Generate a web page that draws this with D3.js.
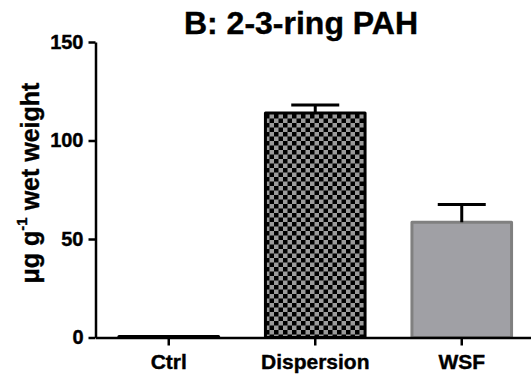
<!DOCTYPE html>
<html>
  <meta charset="utf-8">
  <style>
    body { margin: 0; background: #fff; }
    text { font-family: "Liberation Sans", Arial, sans-serif; font-weight: bold; stroke: #000; stroke-width: 0.4px; }
  </style>
  <body>
    <svg width="531" height="376"></svg>

    <script src="https://d3js.org/d3.v7.min.js"></script>
    <script>
    // data
    let groups = ['Ctrl', 'Dispersion', 'WSF']
    let means = [0.5, 114, 58.5]
    let errors = [0, 4, 9]
    let yTicks = [0, 50, 100, 150]

    let svg = d3.select('svg')

    // checker fill for Dispersion
    let defs = svg.append('defs')
    let pat = defs.append('pattern')
      .attr('id', 'checker')
      .attr('patternUnits', 'userSpaceOnUse')
      .attr('width', 9).attr('height', 9)
      .attr('x', 265).attr('y', 114)
    pat.append('rect').attr('width', 9).attr('height', 9).attr('fill', '#9a9a9a')
    pat.append('rect').attr('width', 4.5).attr('height', 4.5).attr('fill', '#000')
    pat.append('rect').attr('x', 4.5).attr('y', 4.5).attr('width', 4.5).attr('height', 4.5).attr('fill', '#000')

    let x = d3.scaleBand()
              .domain(groups)
              .range([95.5, 535])
              .paddingInner(0.32)
              .paddingOuter(0.16)

    let y = d3.scaleLinear()
              .domain([0, 150])
              .range([337.5, 42])

    let fills = ['#000', 'url(#checker)', '#a0a0a5']
    let strokes = ['#000', '#000', '#808080']

    // bars
    svg.append('g').selectAll('rect')
      .data(means).enter()
      .append('rect')
      .attr('x', (d, i) => x(groups[i]))
      .attr('y', d => y(d))
      .attr('width', x.bandwidth())
      .attr('height', d => y(0) - y(d))
      .attr('fill', (d, i) => fills[i])
      .attr('stroke', (d, i) => strokes[i])
      .attr('stroke-width', 3)
      .attr('stroke-linejoin', 'round')

    // error bars (upper only)
    let eb = svg.append('g').attr('stroke', '#000').attr('stroke-width', 3)
    means.forEach((m, i) => {
      if (!errors[i]) return
      let cx = x(groups[i]) + x.bandwidth() / 2
      eb.append('line')
        .attr('x1', cx).attr('x2', cx)
        .attr('y1', y(m)).attr('y2', y(m + errors[i]))
      eb.append('line')
        .attr('x1', cx - 24).attr('x2', cx + 24)
        .attr('y1', y(m + errors[i])).attr('y2', y(m + errors[i]))
    })

    // y axis
    let yAxis = svg.append('g')
      .attr('transform', 'translate(95.5,0)')
      .call(d3.axisLeft(y).tickValues(yTicks).tickSize(7).tickSizeOuter(0).tickPadding(5))
    yAxis.select('.domain').attr('stroke-width', 2.5)
    yAxis.selectAll('.tick line').attr('stroke-width', 2.5)
    yAxis.selectAll('.tick text').attr('font-size', 20).attr('fill', '#000')
      .style('font-family', '"Liberation Sans", Arial, sans-serif')

    // x axis
    let xAxis = svg.append('g')
      .attr('transform', 'translate(0,337.5)')
      .call(d3.axisBottom(x).tickSize(8).tickSizeOuter(0).tickPadding(9))
    xAxis.select('.domain').attr('stroke-width', 2.5)
    xAxis.selectAll('.tick line').attr('stroke-width', 2.5)
    xAxis.selectAll('.tick text').attr('font-size', 21).attr('fill', '#000')
      .style('font-family', '"Liberation Sans", Arial, sans-serif')

    // title
    svg.append('text')
      .attr('x', 301).attr('y', 33.5)
      .attr('text-anchor', 'middle')
      .attr('font-size', 32)
      .text('B: 2-3-ring PAH')

    // y label
    let yl = svg.append('text')
      .attr('transform', 'translate(39,183) rotate(-90)')
      .attr('text-anchor', 'middle')
      .attr('font-size', 25)
    yl.append('tspan').text('μg g')
    yl.append('tspan').attr('dy', -12).attr('font-size', 15).text('-1')
    yl.append('tspan').attr('dy', 12).text(' wet weight')
    </script>
</body>
</html>
